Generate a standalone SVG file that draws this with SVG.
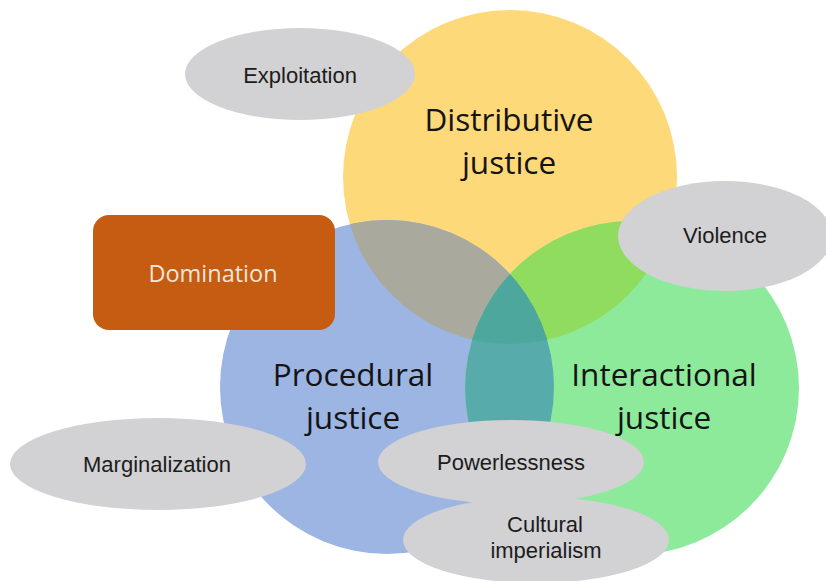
<svg xmlns="http://www.w3.org/2000/svg" width="826" height="581" viewBox="0 0 826 581">
<style>
.big{font-family:"Open Sans","Liberation Sans",sans-serif;font-size:31.5px;fill:#141414;text-anchor:middle}
.lbl{font-family:"Liberation Sans",Arial,sans-serif;font-size:22px;fill:#1c1c1c;text-anchor:middle}
.oval{fill:#D2D1D3}
</style>
<defs>
<clipPath id="cY"><circle cx="510" cy="177" r="167"/></clipPath>
<clipPath id="cB"><circle cx="387" cy="387" r="167"/></clipPath>
<clipPath id="cG"><circle cx="632" cy="388" r="167"/></clipPath>
</defs>
<rect width="826" height="581" fill="#ffffff"/>
<g id="distributive">
<circle cx="510" cy="177" r="167" fill="#FDD97A"/>
</g>
<g id="procedural">
<circle cx="387" cy="387" r="167" fill="#9CB5E3"/>
</g>
<g id="interactional">
<circle cx="632" cy="388" r="167" fill="#8DEA9B"/>
</g>
<g id="overlaps">
<g clip-path="url(#cB)"><circle cx="510" cy="177" r="167" fill="#A9AA9D"/></g>
<g clip-path="url(#cG)"><circle cx="510" cy="177" r="167" fill="#8FDC5E"/></g>
<g clip-path="url(#cB)"><circle cx="632" cy="388" r="167" fill="#58ABAB"/></g>
<g clip-path="url(#cB)"><g clip-path="url(#cG)"><circle cx="510" cy="177" r="167" fill="#4DA79D"/></g></g>
</g>
<g id="labels-main">
<text class="big" x="509" y="131">Distributive</text>
<text class="big" x="509" y="174">justice</text>
<text class="big" x="353" y="386">Procedural</text>
<text class="big" x="353" y="429">justice</text>
<text class="big" x="664" y="386">Interactional</text>
<text class="big" x="664" y="429">justice</text>
</g>
<g id="domination">
<rect x="93" y="215" width="242" height="115" rx="16" fill="#C65B12"/>
<text x="213" y="282" font-family="Open Sans, Liberation Sans, sans-serif" font-size="23.5" fill="#F4E5D8" text-anchor="middle">Domination</text>
</g>
<g id="exploitation">
<ellipse class="oval" cx="300" cy="74" rx="115" ry="46"/>
<text class="lbl" x="300" y="83" font-size="21">Exploitation</text>
</g>
<g id="violence">
<ellipse class="oval" cx="725" cy="236" rx="107" ry="55"/>
<text class="lbl" x="725" y="243">Violence</text>
</g>
<g id="marginalization">
<ellipse class="oval" cx="158" cy="464" rx="148" ry="46"/>
<text class="lbl" x="157" y="472">Marginalization</text>
</g>
<g id="cultural-imperialism">
<ellipse class="oval" cx="536" cy="540" rx="133" ry="43"/>
<text class="lbl" x="545" y="532">Cultural</text>
<text class="lbl" x="546" y="558">imperialism</text>
</g>
<g id="powerlessness">
<ellipse class="oval" cx="511" cy="462" rx="133" ry="42"/>
<text class="lbl" x="511" y="470">Powerlessness</text>
</g>
</svg>
